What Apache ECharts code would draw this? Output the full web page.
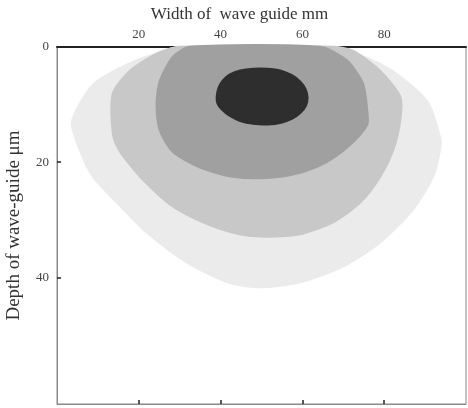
<!DOCTYPE html>
<html><head><meta charset="utf-8">
<script src="https://cdn.jsdelivr.net/npm/echarts@6/dist/echarts.min.js"></script>
<style>html,body{margin:0;padding:0;background:#fff}#c{width:468px;height:408px}</style>
</head><body><div id="c"></div>
<script>
// Axis ranges / ticks
const xRange = [0, 100];
const yRange = [0, 62];
const xTickValues = [20, 40, 60, 80];
const yTickValues = [0, 20, 40];
const yTickMarks = [20, 40];

// Contour outlines: [width (mm), depth (um)]
const levelOuter = [
  [30.1,0],[25.2,0.9],[17.1,3.1],[8.8,6.6],[3.7,13.0],[5.6,17.8],[8.8,22.5],[14.7,27.0],
  [22.0,32.2],[31.8,37.4],[41.6,40.8],[49.6,41.7],[59.4,40.8],[69.9,38.1],[79.0,33.9],
  [87.0,28.2],[91.9,22.5],[93.6,17.8],[93.6,15.7],[90.5,9.5],[82.2,4.3],[74.1,1.4],[66.7,0]
];
const levelSecond = [
  [30.1,0],[24.4,1.2],[17.8,4.2],[13.7,8.1],[13.7,15.0],[15.0,17.6],[17.6,20.2],[21.0,23.0],[27.6,27.3],
  [35.7,30.4],[44.7,32.5],[51.3,32.9],[59.4,32.5],[67.5,30.4],[74.1,27.0],[79.0,22.5],
  [82.2,17.8],[83.9,12.6],[83.9,8.7],[79.0,4.2],[72.4,0.7],[67.5,0]
];
const levelThird = [
  [32.5,0],[28.4,1.7],[25.2,5.9],[24.4,9.9],[25.2,14.5],[28.4,18.2],[35.0,20.9],[43.0,22.5],
  [51.3,22.7],[59.4,21.8],[66.0,19.9],[71.6,17.0],[75.8,13.5],[75.8,11.1],[74.8,6.4],
  [70.9,2.4],[64.3,0]
];
const levelCore = [
  [39.1,8.7],[39.5,7.2],[40.5,5.9],[42.3,4.8],[44.8,4.1],[48.0,3.8],[51.5,3.8],[54.6,4.1],
  [57.3,4.9],[59.4,6.0],[60.7,7.3],[61.2,8.8],[60.8,10.2],[59.5,11.4],[57.5,12.4],
  [54.8,13.1],[51.5,13.4],[48.0,13.3],[44.8,12.8],[42.2,11.9],[40.3,10.8],[39.3,9.8]
];

const levels = [levelOuter, levelSecond, levelThird, levelCore];
const levelColors = ['#ebebeb', '#c8c8c8', '#a0a0a0', '#2e2e2e'];

const chart = echarts.init(document.getElementById('c'), null, {renderer: 'canvas'});
const font = 'Liberation Serif';

function makeRender(points, color) {
  return function (params, api) {
    if (params.dataIndex !== 0) return null;
    const pts = points.map(p => api.coord([p[0], p[1]]));
    return {
      type: 'polygon',
      shape: {points: pts, smooth: 0.25},
      style: {fill: color, stroke: color, lineWidth: 2.5}
    };
  };
}

const series = levels.map((pts, i) => ({
  type: 'custom',
  xAxisIndex: 0,
  yAxisIndex: 0,
  data: pts,
  encode: {x: 0, y: 1},
  renderItem: makeRender(pts, levelColors[i]),
  silent: true,
  z: 2 + i
}));

chart.setOption({
  animation: false,
  backgroundColor: '#fff',
  grid: {left: 57, right: 2, top: 47, bottom: 4, outerBoundsMode: 'none', containLabel: false,
    show: true, borderColor: '#8a8a8a', borderWidth: 1, backgroundColor: 'transparent'},
  xAxis: [{
    type: 'value', position: 'top', min: xRange[0], max: xRange[1], interval: 20,
    name: 'Width of  wave guide mm', nameLocation: 'middle', nameGap: 24,
    nameTextStyle: {fontFamily: font, fontSize: 17, color: '#333', padding: [0, 44, 0, 0]},
    axisLine: {show: true, onZero: false, lineStyle: {color: '#222', width: 2}},
    axisTick: {show: false},
    splitLine: {show: false},
    axisLabel: {fontFamily: font, fontSize: 13, color: '#444', margin: 6, showMinLabel: false, showMaxLabel: false,
      formatter: v => xTickValues.includes(v) ? String(v) : ''}
  }, {
    type: 'value', position: 'bottom', min: xRange[0], max: xRange[1], interval: 20,
    axisLine: {show: true, onZero: false, lineStyle: {color: '#8a8a8a', width: 1}},
    axisTick: {show: true, inside: true, length: 4, lineStyle: {color: '#222', width: 1.5}, customValues: xTickValues},
    axisLabel: {show: false},
    splitLine: {show: false}
  }],
  yAxis: [{
    type: 'value', inverse: true, min: yRange[0], max: yRange[1], interval: 20,
    name: 'Depth of wave-guide μm', nameLocation: 'middle', nameGap: 33,
    nameTextStyle: {fontFamily: font, fontSize: 19, color: '#333'},
    axisLine: {show: true, onZero: false, lineStyle: {color: '#8a8a8a', width: 1}},
    axisTick: {show: true, inside: true, length: 4, lineStyle: {color: '#222', width: 1.5}, customValues: yTickMarks},
    splitLine: {show: false},
    axisLabel: {fontFamily: font, fontSize: 13, color: '#444', margin: 8, customValues: yTickValues,
      formatter: v => yTickValues.includes(v) ? String(v) : ''}
  }],
  series: series
});
</script>
</body></html>
